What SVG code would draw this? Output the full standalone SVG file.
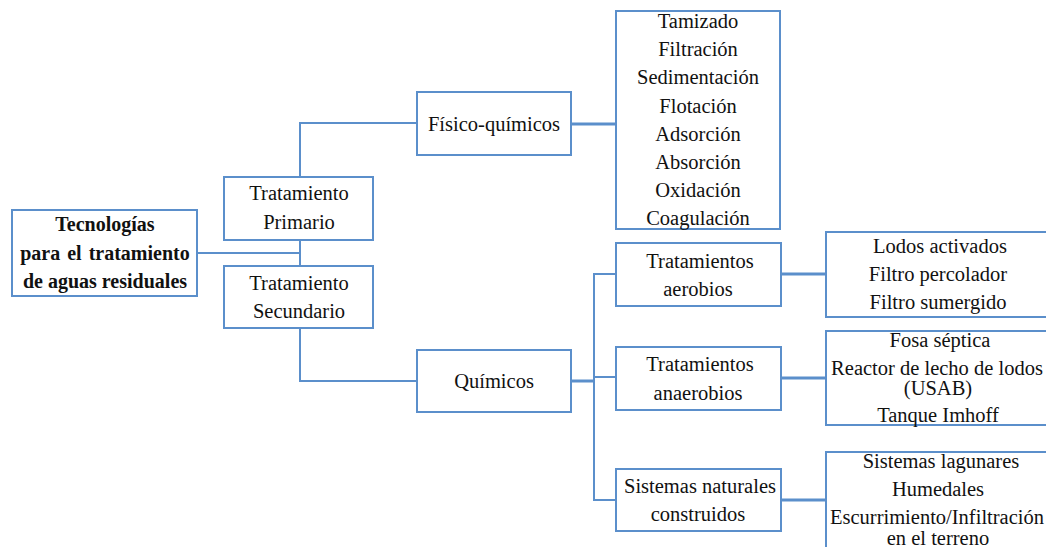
<svg xmlns="http://www.w3.org/2000/svg" width="1046" height="547" viewBox="0 0 1046 547">
<style>
.box{fill:#fff;stroke:#5B8FCB;stroke-width:2}
.ln{fill:none;stroke:#5B8FCB;stroke-width:2}
.thk{fill:none;stroke:#5B8FCB;stroke-width:3}
text{font-family:'Liberation Serif','Times New Roman','DejaVu Serif',serif;font-size:20.5px;fill:#111;text-anchor:middle;dominant-baseline:central}
.b{font-weight:bold;font-size:20px}
</style>
<rect width="1046" height="547" fill="#fff"/>
<g id="connectors">
<polyline class="ln" points="197,253 300,253"/>
<polyline class="ln" points="300,240 300,266"/>
<polyline class="ln" points="300,177 300,123 418,123"/>
<polyline class="ln" points="300,328 300,381 418,381"/>
<polyline class="thk" points="571,124 616,124"/>
<polyline class="thk" points="571,381 594,381"/>
<polyline class="ln" points="616,274 594,274 594,500 616,500"/>
<polyline class="ln" points="594,377 616,377"/>
<polyline class="thk" points="781,274 826,274"/>
<polyline class="thk" points="781,378 826,378"/>
<polyline class="thk" points="781,500 826,500"/>
</g>
<g id="root">
<rect class="box" x="12" y="210" width="185" height="86"/>
<text class="b" x="105" y="224">Tecnologías</text>
<text class="b" x="105" y="253" word-spacing="2">para el tratamiento</text>
<text class="b" x="105" y="281">de aguas residuales</text>
</g>
<g id="primario">
<rect class="box" x="224" y="177" width="149" height="63"/>
<text x="299" y="193">Tratamiento</text>
<text x="299" y="222">Primario</text>
</g>
<g id="secundario">
<rect class="box" x="224" y="266" width="149" height="62"/>
<text x="299" y="283">Tratamiento</text>
<text x="299" y="311">Secundario</text>
</g>
<g id="fisicoquimicos">
<rect class="box" x="417" y="92" width="154" height="63"/>
<text x="494" y="124">Físico-químicos</text>
</g>
<g id="lista-fisico">
<rect class="box" x="616" y="11" width="164" height="218"/>
<text x="698" y="21">Tamizado</text>
<text x="698" y="49">Filtración</text>
<text x="698" y="77">Sedimentación</text>
<text x="698" y="106">Flotación</text>
<text x="698" y="134">Adsorción</text>
<text x="698" y="162">Absorción</text>
<text x="698" y="190">Oxidación</text>
<text x="698" y="218">Coagulación</text>
</g>
<g id="quimicos">
<rect class="box" x="417" y="350" width="154" height="62"/>
<text x="494" y="381">Químicos</text>
</g>
<g id="aerobios">
<rect class="box" x="616" y="243" width="165" height="63"/>
<text x="700" y="261">Tratamientos</text>
<text x="698" y="289">aerobios</text>
</g>
<g id="anaerobios">
<rect class="box" x="616" y="347" width="165" height="63"/>
<text x="700" y="364">Tratamientos</text>
<text x="698" y="393">anaerobios</text>
</g>
<g id="naturales">
<rect class="box" x="616" y="469" width="165" height="62"/>
<text x="700" y="486">Sistemas naturales</text>
<text x="698" y="514">construidos</text>
</g>
<g id="lista-aerobios">
<rect class="box" x="826" y="232" width="224" height="85"/>
<text x="940" y="246">Lodos activados</text>
<text x="938" y="274">Filtro percolador</text>
<text x="938" y="302">Filtro sumergido</text>
</g>
<g id="lista-anaerobios">
<rect class="box" x="826" y="331" width="224" height="94"/>
<text x="940" y="340">Fosa séptica</text>
<text x="937" y="368">Reactor de lecho de lodos</text>
<text x="938" y="388">(USAB)</text>
<text x="938" y="415">Tanque Imhoff</text>
</g>
<g id="lista-naturales">
<rect class="box" x="826" y="452" width="224" height="110"/>
<text x="941" y="461">Sistemas lagunares</text>
<text x="938" y="489">Humedales</text>
<text x="937" y="517">Escurrimiento/Infiltración</text>
<text x="938" y="538">en el terreno</text>
</g>
</svg>
